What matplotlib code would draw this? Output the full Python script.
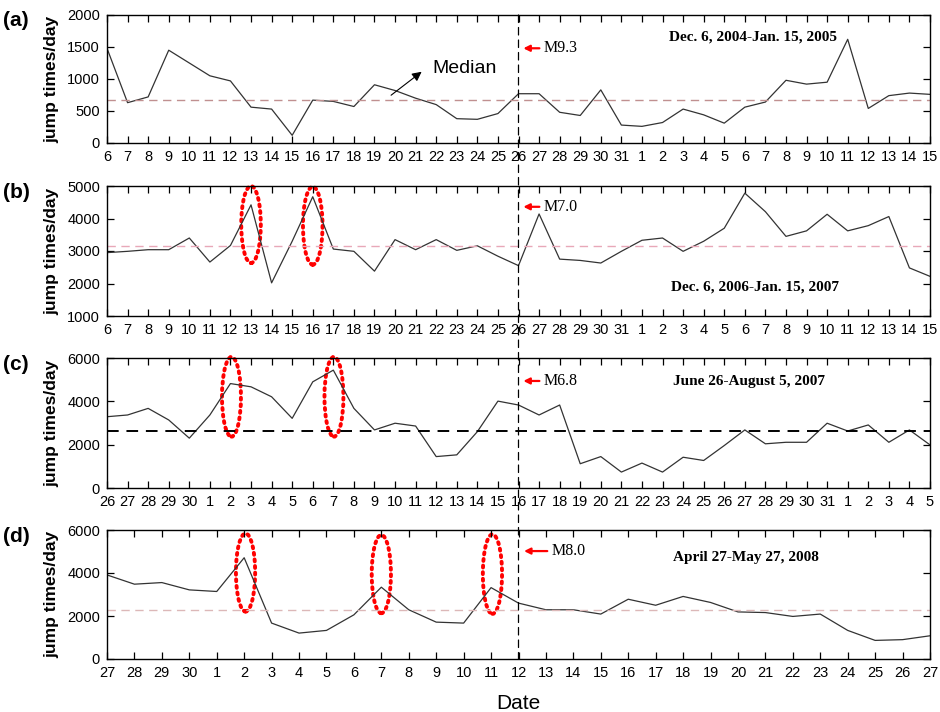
import numpy as np
import matplotlib
matplotlib.use("Agg")
import matplotlib.pyplot as plt
from matplotlib.patches import Ellipse, ConnectionPatch

plt.rcParams['font.family'] = ['Liberation Sans', 'DejaVu Sans']

# day labels for each window
days_a = list(range(6, 32)) + list(range(1, 16))   # Dec 6 2004 - Jan 15 2005
days_b = list(range(6, 32)) + list(range(1, 16))   # Dec 6 2006 - Jan 15 2007
days_c = list(range(26, 31)) + list(range(1, 32)) + list(range(1, 6))  # Jun 26 - Aug 5 2007
days_d = list(range(27, 31)) + list(range(1, 28))  # Apr 27 - May 27 2008

# jump times per day
jumps_a = [1480, 630, 720, 1450, 1250, 1050, 970, 560, 530, 120,
           670, 650, 570, 910, 820, 700, 600, 380, 370, 460,
           770, 770, 480, 430, 830, 280, 260, 320, 530, 440,
           310, 560, 640, 980, 920, 950, 1620, 540, 740, 780, 760]
jumps_b = [2950, 2990, 3040, 3040, 3400, 2660, 3170, 4420, 2020, 3300,
           4670, 3060, 2990, 2380, 3350, 3040, 3350, 3020, 3160, 2840,
           2550, 4140, 2750, 2710, 2630, 2990, 3330, 3400, 2990, 3300,
           3700, 4780, 4210, 3450, 3620, 4130, 3620, 3780, 4060, 2480, 2220]
jumps_c = [3290, 3370, 3675, 3140, 2300, 3370, 4820, 4670, 4210, 3215,
           4900, 5440, 3675, 2680, 2990, 2860, 1450, 1530, 2600, 4010,
           3830, 3370, 3830, 1120, 1450, 735, 1150, 735, 1420, 1270,
           1960, 2680, 2040, 2110, 2110, 2990, 2630, 2910, 2110, 2680, 1990]
jumps_d = [3910, 3480, 3555, 3215, 3140, 4710, 1670, 1205, 1330, 2055,
           3340, 2290, 1715, 1670, 3320, 2600, 2290, 2290, 2090, 2780,
           2500, 2910, 2630, 2190, 2160, 1980, 2090, 1330, 865, 900, 1080]

medians = [670, 3160, 2650, 2270]
median_colors = ['#c09090', '#e8a8b8', 'black', '#dcb8b8']
median_lw = [1.0, 1.0, 1.4, 1.0]

ylims = [(0, 2000), (1000, 5000), (0, 6000), (0, 6000)]
yticks = [[0, 500, 1000, 1500, 2000], [1000, 2000, 3000, 4000, 5000],
          [0, 2000, 4000, 6000], [0, 2000, 4000, 6000]]

quake_idx = [20, 20, 20, 15]
quake_labels = ['M9.3', 'M7.0', 'M6.8', 'M8.0']
quake_y = [1480, 4360, 4940, 5020]

periods = ['Dec. 6, 2004-Jan. 15, 2005', 'Dec. 6, 2006-Jan. 15, 2007',
           'June 26-August 5, 2007', 'April 27-May 27, 2008']
period_pos = [(31.4, 1650), (31.5, 1890), (31.2, 4900), (23.3, 4740)]

# red dotted ellipses: (x index, y centre, width, height)
ellipses = [[],
            [(7, 3815, 0.95, 2370), (10, 3780, 0.95, 2400)],
            [(6.05, 4210, 0.92, 3680), (11.03, 4210, 0.92, 3680)],
            [(5.05, 4025, 0.7, 3630), (10.0, 3950, 0.7, 3640), (14.05, 3950, 0.7, 3700)]]

panel_tags = ['(a)', '(b)', '(c)', '(d)']
all_days = [days_a, days_b, days_c, days_d]
all_jumps = [jumps_a, jumps_b, jumps_c, jumps_d]

serif = ['Liberation Serif', 'DejaVu Serif']

fig = plt.figure(figsize=(9.4, 7.12), dpi=100)
W, H = 940, 712
boxes = [(15, 143), (186, 316), (358, 488), (530, 659)]
axes = []
for k, (top, bot) in enumerate(boxes):
    ax = fig.add_axes([107 / W, 1 - bot / H, 823 / W, (bot - top) / H])
    axes.append(ax)
    x = np.arange(len(all_days[k]))
    ax.plot(x, all_jumps[k], color='#333333', lw=0.9)
    ax.axhline(medians[k], color=median_colors[k], ls=(0, (6, 4)), lw=median_lw[k])
    ax.set_xlim(0, len(x) - 1)
    ax.set_ylim(*ylims[k])
    ax.set_yticks(yticks[k])
    ax.set_xticks(x)
    ax.set_xticklabels([str(d) for d in all_days[k]])
    ax.tick_params(direction='in', top=True, right=True, labelsize=10.5,
                   length=5, width=0.9, pad=5)
    for s in ax.spines.values():
        s.set_linewidth(1.0)
    ax.set_ylabel('jump times/day', fontsize=12.5, fontweight='bold', labelpad=6)
    fig.text(3 / W, 1 - (top + 6) / H, panel_tags[k], fontsize=15, fontweight='bold',
             va='center', ha='left')

    # earthquake marker
    xi = quake_idx[k]
    ax.annotate('', xy=(xi + 0.1, quake_y[k]), xytext=(xi + 1.15, quake_y[k]),
                arrowprops=dict(arrowstyle='-|>', color='red', lw=1.6, mutation_scale=9))
    ax.text(xi + 1.2, quake_y[k], quake_labels[k], fontsize=11.5,
            family=serif, va='center', ha='left')
    ax.text(period_pos[k][0], period_pos[k][1], periods[k], fontsize=11,
            family=serif, fontweight='bold', va='center', ha='center')

    for (ex, ey, ew, eh) in ellipses[k]:
        ax.add_patch(Ellipse((ex, ey), ew, eh, fill=False, edgecolor='red',
                             lw=2.8, ls=(0, (0.5, 1.2)), capstyle='round', clip_on=False))

# x-axis title on the bottom panel
axes[3].set_xlabel('Date', fontsize=15, labelpad=10)

# Median annotation in panel (a)
axes[0].annotate('', xy=(15.4, 1140), xytext=(13.7, 720),
                 arrowprops=dict(arrowstyle='-|>', color='black', lw=0.8, mutation_scale=14))
axes[0].text(15.8, 1170, 'Median', fontsize=14, va='center', ha='left')

# vertical dashed line through all panels at the earthquake date
con = ConnectionPatch(xyA=(quake_idx[0], ylims[0][1]), coordsA=axes[0].transData,
                      xyB=(quake_idx[3], ylims[3][0]), coordsB=axes[3].transData,
                      color='black', lw=0.9, ls=(0, (6, 4)))
fig.add_artist(con)

fig.savefig('out.png', dpi=100)
